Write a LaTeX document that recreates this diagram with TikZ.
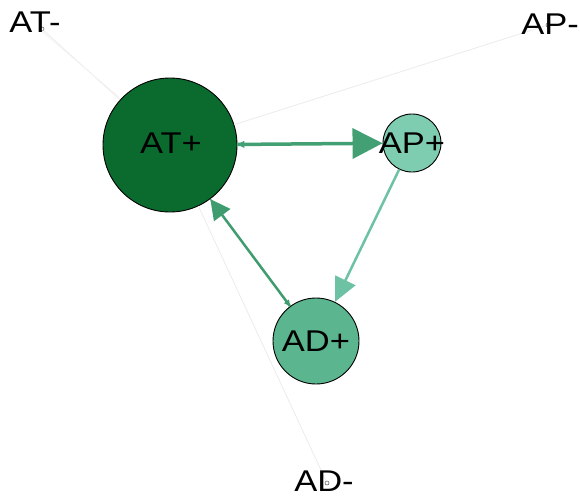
\documentclass[tikz,border=0pt]{standalone}
\usepackage{fontspec}
\setmainfont{Liberation Sans}
\newfontfamily\lblfont[FakeStretch=1.15]{Liberation Sans}
\usetikzlibrary{arrows.meta}
\definecolor{cAT}{HTML}{0B6B2E}
\definecolor{cAP}{HTML}{7ECDB1}
\definecolor{cAD}{HTML}{5BB58F}
\definecolor{eA}{HTML}{43A074}
\definecolor{eB}{HTML}{6CC2A2}
\definecolor{eC}{HTML}{3F9C6E}
\definecolor{faint}{HTML}{EBEBEB}
\tikzset{
  bignode/.style={circle,draw=black,line width=0.9pt,inner sep=0pt},
  dotnode/.style={circle,draw=black!70,fill=white,line width=0.5pt,inner sep=0pt,minimum size=4pt},
  lbl/.style={inner sep=0pt,font=\lblfont\fontsize{30}{30}\selectfont},
  faintedge/.style={draw=faint,line width=0.8pt},
}
\begin{document}
\begin{tikzpicture}[x=1pt,y=-1pt]
\useasboundingbox (0,0) rectangle (580,498);
% nodes
\node[bignode,fill=cAT,minimum size=134pt] (ATp) at (170,145) {};
\node[bignode,fill=cAP,minimum size=58pt] (APp) at (412,143) {};
\node[bignode,fill=cAD,minimum size=86pt] (ADp) at (316,341) {};
\node[dotnode] (ATm) at (42,29) {};
\node[dotnode] (APm) at (548,25) {};
\node[dotnode] (ADm) at (327,483) {};
% faint edges
\draw[faintedge] (ATm) -- (ATp);
\draw[faintedge,draw=faint!60] ([xshift=-3pt]ATm.center) -- ([xshift=-3pt]ATp.north west);
\draw[faintedge] (APm) -- (ATp);
\draw[faintedge] (ADm) -- (ATp);
% main edges
\draw[eA,line width=3.5pt,-{Triangle[length=30pt,width=30pt]}] (ATp) -- (APp);
\draw[eA,line width=1pt,-{Triangle[length=7pt,width=7pt]}] (APp) -- (ATp);
\draw[eB,line width=2.5pt,-{Triangle[length=24pt,width=22pt]}] (APp) -- (ADp);
\draw[eC,line width=2.5pt,-{Triangle[length=20pt,width=20pt]}] (ADp) -- (ATp);
\draw[eC,line width=1pt,-{Triangle[length=6pt,width=6pt]}] (ATp) -- (ADp);
% labels
\node[lbl] (ATlab) at (171,143) {AT+};
\node[lbl] (APlab) at (412,143) {AP+};
\node[lbl] (ADlab) at (316,341) {AD+};
\node[lbl] (ATmlab) at (35,22) {AT-};
\node[lbl] (APmlab) at (550,24) {AP-};
\node[lbl] (ADmlab) at (324,481) {AD-};
\end{tikzpicture}
\end{document}
